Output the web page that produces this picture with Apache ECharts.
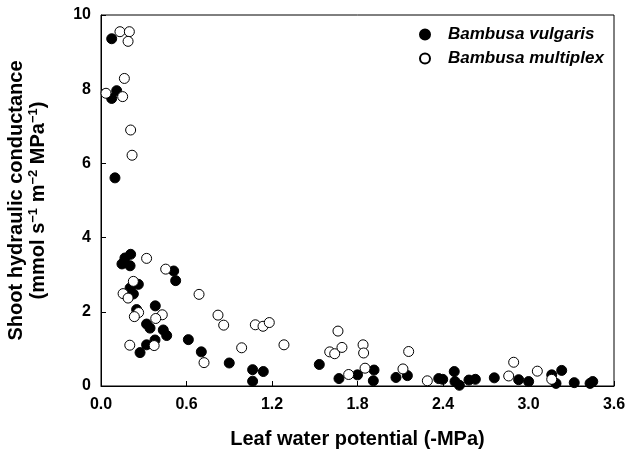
<!DOCTYPE html>
<html>
<head>
<meta charset="utf-8">
<script src="https://cdn.jsdelivr.net/npm/echarts@6/dist/echarts.min.js"></script>
<style>
    html, body { margin: 0; padding: 0; background: #fff; }
    #chart { width: 626px; height: 456px; }
</style>
</head>
<body>
<div id="chart"></div>
<script>
// Bambusa vulgaris (filled)
const vulgarisX = [0.075, 0.11, 0.075, 0.098,
    0.147, 0.168, 0.208, 0.204, 0.51, 0.524, 0.262, 0.204, 0.227,
    0.381, 0.25, 0.32, 0.344, 0.437, 0.461, 0.379, 0.32, 0.274,
    0.613, 0.704, 0.90, 1.064, 1.139, 1.064,
    1.532, 1.67, 1.80, 1.916, 1.911, 2.07, 2.15,
    2.37, 2.398, 2.479, 2.484, 2.515, 2.582, 2.627, 2.76, 2.931, 3.001,
    3.163, 3.233, 3.193, 3.321, 3.432, 3.451];
const vulgarisY = [9.36, 7.96, 7.75, 5.61,
    3.29, 3.45, 3.55, 3.24, 3.10, 2.84, 2.74, 2.64, 2.48,
    2.16, 2.06, 1.67, 1.56, 1.51, 1.36, 1.24, 1.11, 0.90,
    1.25, 0.92, 0.62, 0.44, 0.39, 0.13,
    0.58, 0.20, 0.30, 0.43, 0.14, 0.23, 0.28,
    0.20, 0.18, 0.39, 0.12, 0.02, 0.16, 0.18, 0.22, 0.17, 0.12,
    0.30, 0.42, 0.07, 0.09, 0.07, 0.12];

// Bambusa multiplex (open)
const multiplexX = [0.133, 0.199, 0.19, 0.164, 0.035, 0.152, 0.208, 0.218,
    0.32, 0.454, 0.227, 0.155, 0.19, 0.688,
    0.264, 0.234, 0.43, 0.384, 0.821, 0.861, 0.373, 0.202, 0.723, 0.987,
    1.083, 1.137, 1.181, 1.284,
    1.663, 1.605, 1.64, 1.691, 1.738, 1.839, 1.843, 1.853,
    2.119, 2.159, 2.29, 2.861, 2.896, 3.062, 3.163];
const multiplexY = [9.55, 9.55, 9.29, 8.29, 7.89, 7.80, 6.90, 6.22,
    3.44, 3.15, 2.82, 2.49, 2.37, 2.47,
    1.98, 1.87, 1.92, 1.82, 1.91, 1.64, 1.09, 1.10, 0.63, 1.03,
    1.65, 1.61, 1.71, 1.11,
    1.48, 0.92, 0.87, 1.04, 0.31, 1.11, 0.89, 0.48,
    0.46, 0.93, 0.14, 0.27, 0.64, 0.40, 0.18];

const xTicks = [0.0, 0.6, 1.2, 1.8, 2.4, 3.0, 3.6];

function zip(xs, ys) {
    return xs.map((x, i) => [x, ys[i]]);
}

const font = 'Liberation Sans, Arial, sans-serif';
const chart = echarts.init(document.getElementById('chart'));

chart.setOption({
    backgroundColor: '#fff',
    animation: false,
    textStyle: { fontFamily: font, color: '#000' },
    grid: {
        left: 101, right: 12, top: 15, bottom: 70,
        outerBoundsMode: 'none',
        show: true, borderColor: '#000', borderWidth: 1
    },
    legend: {
        orient: 'vertical',
        left: 414, top: 21,
        itemWidth: 10, itemHeight: 10, itemGap: 7,
        textStyle: { fontFamily: font, fontSize: 17, fontWeight: 'bold', fontStyle: 'italic', color: '#000', padding: [0, 0, 0, 13] },
        data: [
            { name: 'Bambusa vulgaris', icon: 'circle' },
            { name: 'Bambusa multiplex', icon: 'circle' }
        ]
    },
    xAxis: {
        type: 'value',
        min: 0, max: 3.6, interval: 0.6,
        name: 'Leaf water potential (-MPa)',
        nameLocation: 'middle', nameGap: 43,
        nameTextStyle: { fontFamily: font, fontSize: 20, fontWeight: 'bold', color: '#000' },
        axisLine: { lineStyle: { color: '#000', width: 1 } },
        axisTick: { inside: true, length: 5, lineStyle: { color: '#000' } },
        axisLabel: {
            fontFamily: font, fontSize: 16, fontWeight: 'bold', color: '#000', margin: 11,
            formatter: v => xTicks.find(t => Math.abs(t - v) < 1e-6).toFixed(1)
        },
        splitLine: { show: false }
    },
    yAxis: {
        type: 'value',
        min: 0, max: 10, interval: 2,
        name: '{a|Shoot hydraulic conductance}\n{a|(mmol s}{s|−1}{a| m}{s|−2}{a| MPa}{s|−1}{a|)}',
        nameLocation: 'middle', nameGap: 52,
        nameTextStyle: {
            fontFamily: font, color: '#000',
            rich: {
                a: { fontFamily: font, fontSize: 20, fontWeight: 'bold', lineHeight: 22, color: '#000' },
                s: { fontFamily: font, fontSize: 13, fontWeight: 'bold', verticalAlign: 'top', color: '#000' }
            }
        },
        axisLine: { show: true, lineStyle: { color: '#000', width: 1 } },
        axisTick: { show: true, inside: true, length: 5, lineStyle: { color: '#000' } },
        axisLabel: { fontFamily: font, fontSize: 16, fontWeight: 'bold', color: '#000', margin: 10 },
        splitLine: { show: false }
    },
    series: [
        {
            name: 'Bambusa vulgaris',
            type: 'scatter',
            symbol: 'circle',
            symbolSize: 10,
            itemStyle: { color: '#000', borderColor: '#000', borderWidth: 1, opacity: 1 },
            data: zip(vulgarisX, vulgarisY)
        },
        {
            name: 'Bambusa multiplex',
            type: 'scatter',
            symbol: 'circle',
            symbolSize: 10,
            itemStyle: { color: '#fff', borderColor: '#000', borderWidth: 1, opacity: 1 },
            data: zip(multiplexX, multiplexY)
        }
    ]
});
</script>
</body>
</html>
